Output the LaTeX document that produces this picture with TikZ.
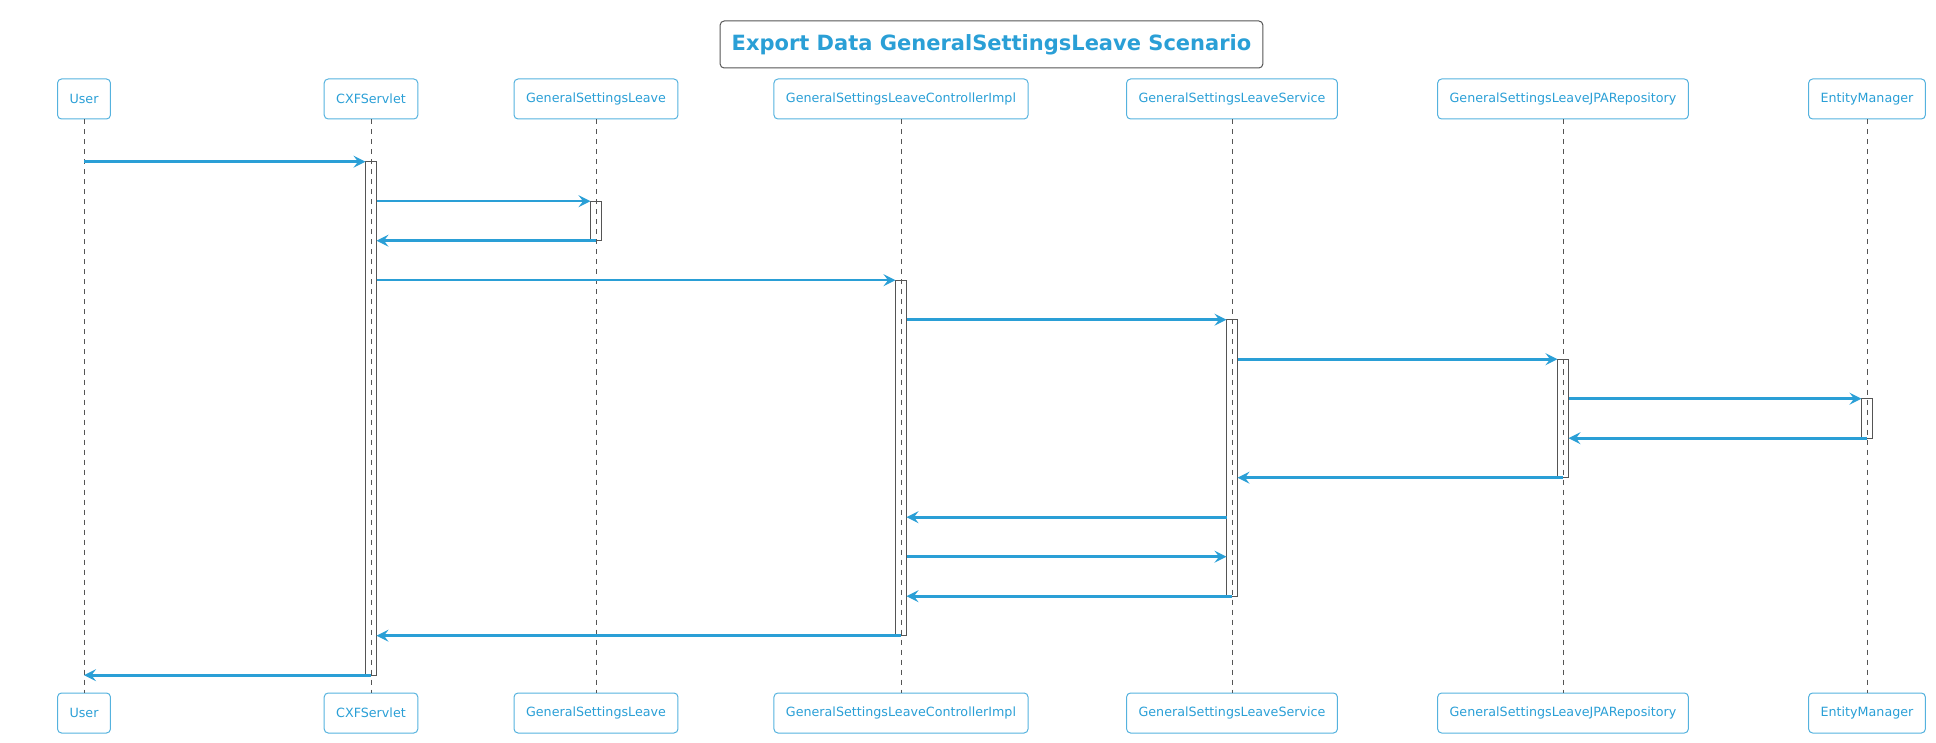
\documentclass[tikz,border=0pt]{standalone}
\usepackage{fontspec}
\setmainfont{DejaVu Sans}
\usetikzlibrary{arrows.meta}
\definecolor{umlblue}{HTML}{2A9FD6}
\definecolor{umlgray}{HTML}{555555}
\tikzset{
  actor/.style={draw=umlblue!80, rounded corners=4pt, text=umlblue, line width=1pt,
    font=\fontsize{12.7}{14}\selectfont, minimum height=40pt, inner xsep=12pt},
  heading/.style={draw=umlgray, rounded corners=4pt, text=umlblue, line width=1pt,
    font=\fontsize{21}{24}\selectfont\bfseries, minimum height=47pt, inner xsep=11.5pt},
  lifeline/.style={draw=umlgray, dash pattern=on 5pt off 5pt, line width=1pt},
  activebar/.style={draw=umlgray, line width=1pt},
  msg/.style={draw=umlblue, line width=2.6pt, shorten >=5.5pt,
    -{Stealth[length=12pt,width=12pt,inset=4.5pt]}},
  call/.style={msg, shorten <=5.5pt},
}
\begin{document}
\begin{tikzpicture}[x=1pt,y=-1pt]
    \useasboundingbox (0,0) rectangle (1936,743);
    \node[heading] (title) at (991.5,44.5) {Export Data GeneralSettingsLeave Scenario};
    % participants, top and bottom
    \node[actor] (user) at (84,99) {User};
    \node[actor] (cxf) at (371,99) {CXFServlet};
    \node[actor] (gsl) at (596,99) {GeneralSettingsLeave};
    \node[actor] (ctrl) at (901,99) {GeneralSettingsLeaveControllerImpl};
    \node[actor] (svc) at (1232,99) {GeneralSettingsLeaveService};
    \node[actor] (jpa) at (1563,99) {GeneralSettingsLeaveJPARepository};
    \node[actor] (em) at (1867,99) {EntityManager};
    \node[actor] (user-b) at (84,713) {User};
    \node[actor] (cxf-b) at (371,713) {CXFServlet};
    \node[actor] (gsl-b) at (596,713) {GeneralSettingsLeave};
    \node[actor] (ctrl-b) at (901,713) {GeneralSettingsLeaveControllerImpl};
    \node[actor] (svc-b) at (1232,713) {GeneralSettingsLeaveService};
    \node[actor] (jpa-b) at (1563,713) {GeneralSettingsLeaveJPARepository};
    \node[actor] (em-b) at (1867,713) {EntityManager};
    % lifelines and message rows
    \foreach \p/\x in {user/84,cxf/371,gsl/596,ctrl/901,svc/1232,jpa/1563,em/1867} {
        \draw[lifeline] (\p) -- (\p-b);
        \foreach \i in {0,...,13}
            \coordinate (\p-\i) at (\x,{161.7+39.5*\i});
    }
    % activations
    \draw[activebar] ([xshift=-5.25pt]cxf-0) rectangle ([xshift=5.25pt]cxf-13);
    \draw[activebar] ([xshift=-5.25pt]gsl-1) rectangle ([xshift=5.25pt]gsl-2);
    \draw[activebar] ([xshift=-5.25pt]ctrl-3) rectangle ([xshift=5.25pt]ctrl-12);
    \draw[activebar] ([xshift=-5.25pt]svc-4) rectangle ([xshift=5.25pt]svc-11);
    \draw[activebar] ([xshift=-5.25pt]jpa-5) rectangle ([xshift=5.25pt]jpa-8);
    \draw[activebar] ([xshift=-5.25pt]em-6) rectangle ([xshift=5.25pt]em-7);
    % messages
    \draw[msg] (user-0) to (cxf-0);
    \draw[call] (cxf-1) to (gsl-1);
    \draw[msg] (gsl-2) to (cxf-2);
    \draw[call] (cxf-3) to (ctrl-3);
    \draw[call] (ctrl-4) to (svc-4);
    \draw[call] (svc-5) to (jpa-5);
    \draw[call] (jpa-6) to (em-6);
    \draw[msg] (em-7) to (jpa-7);
    \draw[msg] (jpa-8) to (svc-8);
    \draw[call] (svc-9) to (ctrl-9);
    \draw[call] (ctrl-10) to (svc-10);
    \draw[msg] (svc-11) to (ctrl-11);
    \draw[msg] (ctrl-12) to (cxf-12);
    \draw[msg, shorten >=0pt] (cxf-13) to (user-13);
\end{tikzpicture}
\end{document}
